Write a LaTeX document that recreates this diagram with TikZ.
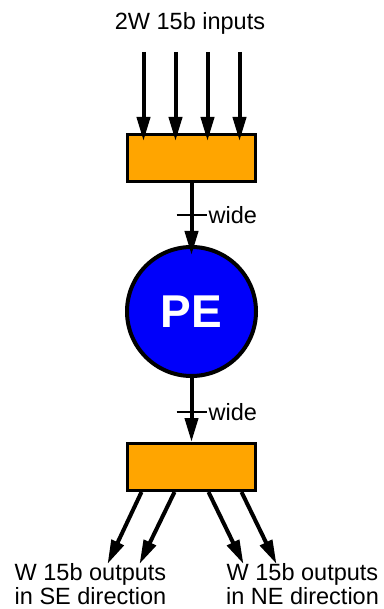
\documentclass[tikz,border=0pt]{standalone}
\usepackage{fontspec}
\setmainfont{Liberation Sans}
\usepackage{tikz}
\usetikzlibrary{arrows.meta,positioning}
\definecolor{bufferorange}{RGB}{255,165,0}
\definecolor{peblue}{RGB}{0,0,250}
\newcommand{\lbl}{\fontsize{23.5}{24}\selectfont}

\begin{document}
\begin{tikzpicture}[x=1pt,y=-1pt,>={Triangle[length=24pt,width=13pt]},node distance=62pt]
\tikzstyle{bufbox}=[draw,line width=3pt,fill=bufferorange,minimum width=128pt,minimum height=47pt,inner sep=0pt]
\tikzstyle{penode}=[draw,circle,line width=4pt,fill=peblue,minimum size=129pt,inner sep=0pt,
                    text=white,font=\fontsize{46}{46}\selectfont\bfseries]
\tikzstyle{bus}=[line width=4pt]
\tikzstyle{tick}=[line width=1.4pt]
\tikzstyle{txt}=[font=\lbl,align=center,inner sep=0pt]

\useasboundingbox (0,0) rectangle (383,609);

\node[txt,anchor=base] (inlbl) at (190,30) {2W 15b inputs};
\node[bufbox] (inbuf) at (191.5,158) {};
\node[penode,below=62pt of inbuf] (pe) {PE};
\node[bufbox,below=64pt of pe] (outbuf) {};

\node[txt,anchor=north] (selbl) at (90.5,563) {W 15b outputs\\in SE direction};
\node[txt,anchor=north] (nelbl) at (302.5,563) {W 15b outputs\\in NE direction};

% inputs
\foreach \dx [count=\i] in {-48,-16,16,48}{
  \coordinate (src\i) at ([xshift=\dx pt,yshift=81pt]inbuf.north);
  \draw[bus,->] (src\i) -- ([xshift=\dx pt,yshift=-8pt]inbuf.north);
}

% wide links
\draw[bus,->] (inbuf.south) -- coordinate[pos=.444] (w1) ([yshift=-10pt]pe.north);
\draw[tick] ([xshift=-15pt]w1) -- ([xshift=15pt]w1) node[right,font=\lbl,inner sep=1.5pt] {wide};
\draw[bus,->] (pe.south) -- coordinate[pos=.53] (w2) (outbuf.north);
\draw[tick] ([xshift=-15pt]w2) -- ([xshift=15pt]w2) node[right,font=\lbl,inner sep=1.5pt] {wide};

% outputs
\foreach \dx/\ex [count=\i] in {-50/-84,-17/-52,17/52,50/85}{
  \coordinate (dst\i) at ([xshift=\ex pt,yshift=-72pt]outbuf.south);
  \draw[bus,->] ([xshift=\dx pt]outbuf.south) -- (dst\i);
}
\end{tikzpicture}
\end{document}
